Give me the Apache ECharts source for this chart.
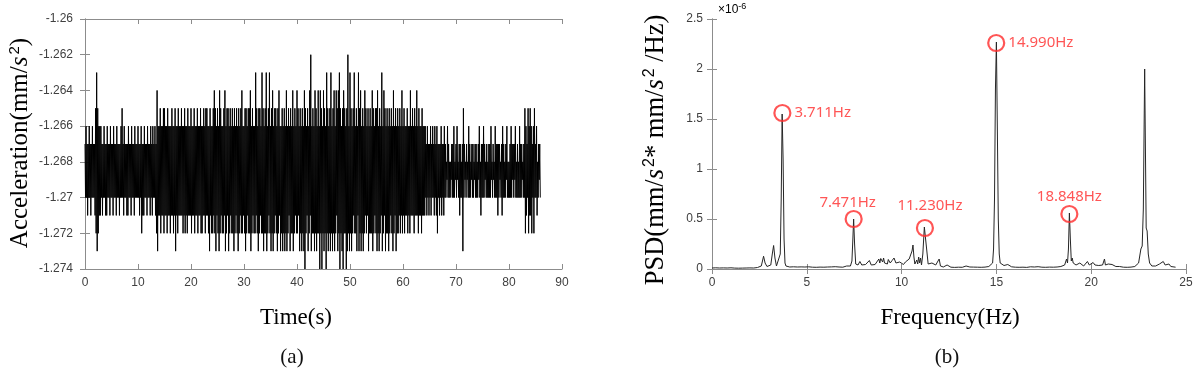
<!DOCTYPE html>
<html>
<head>
<meta charset="utf-8">
<script src="https://cdn.jsdelivr.net/npm/echarts@6/dist/echarts.min.js"></script>
<style>
html,body{margin:0;padding:0;background:#fff;}
#c{width:1200px;height:373px;}
</style>
</head>
<body>
<div id="c"></div>
<script>
// ---------- (a) acceleration time history ----------
// one string per second of record; each character is one reading,
// coded as thousandths below -1.262 (0 = -1.262 ... c = -1.274)
const accelBySecond = [
"5848595848","5958485859","3a1b3a4949","4859584859","5948585948",
"5859485859","4858595848","3859485859","5948585948","5859485858",
"4859584a59","5948585948","5859485948","58495a2b49","493a49493a",
"39494a3949","4a49394a49","3b494a3949","49394a493a","494a394949",
"3a49493a49","493a49493a","4a49394a39","394a4b394a","4a392a3b49",
"3a4b2a394a","4a392b4a39","3b4a394a3a","4b3a493a4b","3a493a2a49",
"4a3b3a493a","3a2b4a394a","4a193a4b3a","394a1a3b4a","3a1b4a391a",
"4b3a2b4a39","3a4b3a294b","4a3b4a3b4a","2b4a394b3a","4a2b4a394a",
"2a394b3a4b","3a4b2c3a49","3b4a290b4a","3a4b2a3b4a","2a4c2a3c4a",
"2b3a4c1a3b","4a3b1a4b3a","2b4a293b2a","1c3a4b3c2a","3a4c3b0a4b",
"1a3b4a391a","4a3b491b3a","2b4a3b4a29","3a493b4a3a","4a2b3a493a",
"3b2a4b3a49","1b4a293b4a","3a4b3a493a","4b2a493b4a","3a493a492a",
"493a49493a","494a294939","4a3949294a","39494a3949","4948594859",
"5849584859","48594a5859","5849585948","5867485868","6758584867",
"5847685958","685b385768","5768485867","5858675858","6857486958",
"5848576858","6858584768","5768485859","5857685948","5868574868",
"6858485758","5748685868","4858576858","3a49583a49","394a584a38",
"5849685758"
];
const accelYTicks = [-1.274,-1.272,-1.27,-1.268,-1.266,-1.264,-1.262,-1.26];
const timeTicks = [0,10,20,30,40,50,60,70,80,90];

// ---------- (b) PSD (values in units of 1e-6) ----------
const psdFreq = [
0.00,0.10,0.20,0.30,0.40,0.50,0.60,0.70,0.80,0.90,1.00,1.10,1.20,1.30,1.40,1.50,1.60,1.70,1.80,1.90,
2.00,2.10,2.20,2.30,2.40,2.50,2.60,2.65,2.72,2.80,2.90,3.00,3.10,3.18,3.25,3.32,3.40,3.50,3.60,3.65,
3.70,3.75,3.80,3.85,3.90,4.00,4.10,4.20,4.30,4.40,4.50,4.60,4.70,4.80,4.90,5.00,5.10,5.20,5.30,5.40,
5.50,5.60,5.70,5.80,5.90,6.00,6.10,6.20,6.30,6.40,6.50,6.60,6.70,6.80,6.90,7.00,7.10,7.20,7.30,7.38,
7.43,7.47,7.52,7.58,7.65,7.70,7.80,7.90,8.00,8.10,8.20,8.30,8.40,8.50,8.60,8.70,8.80,8.85,8.90,9.00,
9.05,9.10,9.20,9.25,9.30,9.40,9.50,9.60,9.70,9.80,9.90,10.00,10.10,10.20,10.30,10.40,10.50,10.55,10.60,10.65,
10.70,10.80,10.85,10.90,10.95,11.00,11.05,11.12,11.20,11.26,11.32,11.40,11.50,11.60,11.70,11.80,11.90,11.98,12.05,12.10,
12.20,12.30,12.40,12.50,12.60,12.70,12.80,12.90,13.00,13.10,13.20,13.30,13.40,13.50,13.60,13.70,13.80,13.90,14.00,14.10,
14.20,14.30,14.40,14.50,14.60,14.70,14.80,14.85,14.90,14.95,15.00,15.05,15.10,15.15,15.20,15.30,15.40,15.50,15.60,15.70,
15.80,15.90,16.00,16.10,16.20,16.30,16.40,16.50,16.60,16.70,16.80,16.90,17.00,17.10,17.20,17.30,17.40,17.50,17.60,17.70,
17.80,17.90,18.00,18.10,18.20,18.30,18.40,18.50,18.60,18.70,18.75,18.80,18.85,18.90,18.95,19.00,19.05,19.10,19.20,19.30,
19.40,19.50,19.60,19.70,19.80,19.90,20.00,20.10,20.20,20.30,20.40,20.50,20.60,20.70,20.75,20.80,20.90,21.00,21.10,21.20,
21.30,21.40,21.50,21.60,21.70,21.80,21.90,22.00,22.10,22.20,22.30,22.40,22.50,22.62,22.69,22.75,22.82,22.86,22.90,22.95,
23.01,23.08,23.15,23.20,23.30,23.40,23.50,23.60,23.70,23.80,23.90,24.00,24.10,24.20,24.30,24.45
];
const psdValue = [
0.010,0.008,0.012,0.009,0.010,0.008,0.011,0.009,0.010,0.008,0.012,0.015,0.009,0.010,0.008,0.011,0.009,0.012,0.010,0.009,
0.011,0.013,0.010,0.012,0.015,0.020,0.030,0.070,0.128,0.060,0.025,0.020,0.040,0.150,0.235,0.110,0.030,0.020,0.150,0.700,
1.550,1.100,0.300,0.060,0.030,0.025,0.020,0.018,0.022,0.017,0.020,0.016,0.021,0.018,0.020,0.038,0.022,0.030,0.018,0.022,
0.017,0.024,0.019,0.022,0.018,0.028,0.020,0.017,0.021,0.018,0.023,0.016,0.020,0.024,0.018,0.022,0.030,0.025,0.030,0.080,
0.300,0.500,0.250,0.050,0.030,0.040,0.075,0.040,0.030,0.045,0.035,0.085,0.040,0.030,0.045,0.050,0.100,0.060,0.105,0.070,
0.110,0.060,0.080,0.050,0.095,0.060,0.085,0.110,0.060,0.050,0.070,0.050,0.045,0.070,0.060,0.100,0.110,0.180,0.240,0.120,
0.050,0.090,0.050,0.120,0.060,0.110,0.040,0.150,0.420,0.440,0.200,0.050,0.040,0.060,0.045,0.040,0.050,0.100,0.030,0.025,
0.020,0.022,0.040,0.020,0.018,0.022,0.016,0.020,0.018,0.022,0.017,0.024,0.030,0.028,0.020,0.016,0.019,0.022,0.018,0.020,
0.017,0.021,0.019,0.022,0.025,0.030,0.060,0.200,0.700,1.800,2.270,1.400,0.500,0.150,0.060,0.040,0.035,0.030,0.045,0.030,
0.022,0.020,0.018,0.022,0.017,0.020,0.018,0.021,0.016,0.019,0.022,0.018,0.020,0.017,0.023,0.019,0.018,0.021,0.017,0.020,
0.019,0.022,0.018,0.024,0.020,0.035,0.025,0.030,0.040,0.100,0.060,0.200,0.560,0.300,0.080,0.110,0.060,0.050,0.040,0.030,
0.060,0.040,0.030,0.040,0.075,0.040,0.050,0.065,0.040,0.060,0.035,0.030,0.040,0.100,0.040,0.030,0.050,0.040,0.045,0.030,
0.025,0.022,0.025,0.020,0.018,0.021,0.017,0.020,0.019,0.022,0.025,0.030,0.060,0.200,0.230,0.600,2.000,1.200,0.410,0.380,
0.150,0.060,0.040,0.030,0.025,0.030,0.040,0.050,0.040,0.075,0.040,0.035,0.050,0.025,0.020,0.018
];
const psdYTicks = [0,0.5,1,1.5,2,2.5];
const freqTicks = [0,5,10,15,20,25];

// marked peaks
const peakFreq = [3.711, 7.471, 11.230, 14.990, 18.848];
const peakPsd  = [1.56, 0.50, 0.41, 2.26, 0.55];

// ---------- build ----------
const accelData = [];
accelBySecond.forEach((s, sec) => {
  for (let j = 0; j < s.length; j++) {
    const k = parseInt(s[j], 16);
    accelData.push([sec + j / s.length, (-1262 - k) / 1000]);
  }
});
const psdData = psdFreq.map((f, i) => [f, psdValue[i]]);

const labelPos = [
  {position: 'right', distance: 3, offset: [0, 0]},
  {position: 'top', distance: 0, offset: [-6, 0]},
  {position: 'top', distance: 6, offset: [5, 0]},
  {position: 'right', distance: 3, offset: [0, 0]},
  {position: 'top', distance: 1, offset: [0, 0]}
];
const peakData = peakFreq.map((f, i) => ({
  value: [f, peakPsd[i]],
  label: Object.assign({show: true, formatter: f.toFixed(3) + 'Hz'}, labelPos[i])
}));

const gray = '#8c8c8c';
const tickLbl = {color: '#404040', fontSize: 12, fontFamily: 'Liberation Sans, Arial, sans-serif'};

function boxAxis(gridIndex, pos, extra) {
  return Object.assign({
    gridIndex, position: pos, type: 'value',
    axisLine: {show: true, lineStyle: {color: gray, width: 1}},
    axisTick: {show: true, inside: true, length: 5, lineStyle: {color: gray}},
    axisLabel: {show: false},
    splitLine: {show: false}
  }, extra);
}

const chart = echarts.init(document.getElementById('c'), null, {renderer: 'canvas'});
const serif = '"Liberation Serif", "Times New Roman", serif';
function richFor(size, sup) {
  return {
    n: {fontFamily: serif, fontSize: size, color: '#111'},
    i: {fontFamily: serif, fontSize: size, fontStyle: 'italic', color: '#111'},
    p: {fontFamily: 'Liberation Sans, Arial, sans-serif', fontSize: sup, color: '#111', verticalAlign: 'top', padding: [0, 0, Math.round(size * 0.45), 2]}
  };
}

chart.setOption({
  animation: false,
  backgroundColor: '#fff',
  grid: [
    {left: 85, top: 19, width: 477, height: 250, show: false},
    {left: 712, top: 19, width: 474, height: 250, show: false}
  ],
  xAxis: [
    boxAxis(0, 'bottom', {min: timeTicks[0], max: timeTicks[timeTicks.length - 1], interval: 10,
      axisLabel: Object.assign({show: true, margin: 8}, tickLbl)}),
    boxAxis(0, 'top', {min: 0, max: 90, interval: 10}),
    boxAxis(1, 'bottom', {min: freqTicks[0], max: freqTicks[freqTicks.length - 1], interval: 5,
      axisLabel: Object.assign({show: true, margin: 8}, tickLbl)}),
    boxAxis(1, 'top', {min: 0, max: 25, interval: 5})
  ],
  yAxis: [
    boxAxis(0, 'left', {min: accelYTicks[0], max: accelYTicks[accelYTicks.length - 1], interval: 0.002,
      axisLabel: Object.assign({show: true, margin: 12, formatter: v => String(+v.toFixed(3))}, tickLbl)}),
    boxAxis(0, 'right', {min: -1.274, max: -1.26, interval: 0.002}),
    boxAxis(1, 'left', {min: psdYTicks[0], max: psdYTicks[psdYTicks.length - 1], interval: 0.5,
      axisLabel: Object.assign({show: true, margin: 9, formatter: v => String(+v.toFixed(2))}, tickLbl)}),
    boxAxis(1, 'right', {min: 0, max: 2.5, interval: 0.5})
  ],
  series: [
    {type: 'line', xAxisIndex: 0, yAxisIndex: 0, data: accelData, showSymbol: false, symbol: 'none',
      lineStyle: {color: '#000', width: 1}, silent: true},
    {type: 'line', xAxisIndex: 2, yAxisIndex: 2, data: psdData, showSymbol: false, symbol: 'none',
      lineStyle: {color: '#262626', width: 1}, silent: true},
    {type: 'scatter', xAxisIndex: 2, yAxisIndex: 2, data: peakData, symbol: 'circle', symbolSize: 16,
      itemStyle: {color: 'rgba(0,0,0,0)', borderColor: '#ff2a2a', borderWidth: 2.2},
      label: {color: '#ff2a2a', fontSize: 15, fontFamily: '"Noto Sans", "Open Sans", sans-serif'},
      silent: true, z: 5}
  ],
  graphic: [
    {type: 'text', x: 20, y: 143, rotation: Math.PI / 2,
      style: {text: '{n|Acceleration(mm/}{i|s}{p|2}{n|)}', rich: richFor(25, 15), align: 'center', verticalAlign: 'middle'}},
    {type: 'text', x: 656, y: 150, rotation: Math.PI / 2,
      style: {text: '{n|PSD(mm/}{i|s}{p|2}{n|* mm/}{i|s}{p|2}{n| /Hz)}', rich: richFor(26.5, 16), align: 'center', verticalAlign: 'middle'}},
    {type: 'text', x: 296, y: 318,
      style: {text: '{n|Time(s)}', rich: richFor(23, 14), align: 'center', verticalAlign: 'middle'}},
    {type: 'text', x: 950, y: 318,
      style: {text: '{n|Frequency(Hz)}', rich: richFor(23, 14), align: 'center', verticalAlign: 'middle'}},
    {type: 'text', x: 292, y: 357,
      style: {text: '(a)', font: '21px ' + serif, fill: '#111', align: 'center', verticalAlign: 'middle'}},
    {type: 'text', x: 947, y: 357,
      style: {text: '(b)', font: '21px ' + serif, fill: '#111', align: 'center', verticalAlign: 'middle'}},
    {type: 'text', x: 718, y: 10,
      style: {text: '{a|×10}{b|-6}', align: 'left', verticalAlign: 'middle',
        rich: {a: {fontSize: 12, color: '#555', fontFamily: 'Liberation Sans, Arial, sans-serif'},
               b: {fontSize: 9, color: '#555', fontFamily: 'Liberation Sans, Arial, sans-serif', verticalAlign: 'top', padding: [0, 0, 6, 0]}}}}
  ]
});
</script>
</body>
</html>
